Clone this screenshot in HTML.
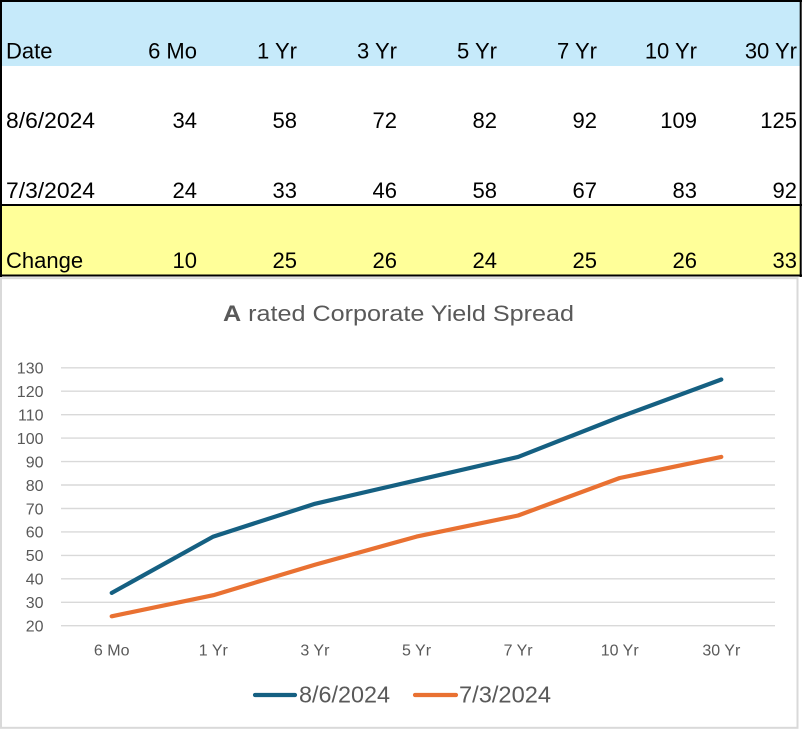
<!DOCTYPE html>
<html><head><meta charset="utf-8"><style>
html,body{margin:0;padding:0;background:#fff;}
svg{display:block;}
</style></head><body>
<svg width="803" height="730" viewBox="0 0 803 730" xmlns="http://www.w3.org/2000/svg">
<!-- table -->
<rect x="0" y="0" width="803" height="730" fill="#fff"/>
<rect x="1" y="1" width="800" height="65" fill="#C6EAFA"/>
<rect x="1" y="205" width="800" height="70" fill="#FFFF99"/>
<line x1="0" y1="1" x2="802" y2="1" stroke="#000" stroke-width="2"/>
<line x1="1" y1="0" x2="1" y2="277" stroke="#000" stroke-width="2"/>
<line x1="800.7" y1="0" x2="800.7" y2="277" stroke="#000" stroke-width="2"/>
<line x1="0" y1="205" x2="802" y2="205" stroke="#000" stroke-width="2"/>
<line x1="0" y1="275.5" x2="802" y2="275.5" stroke="#000" stroke-width="2"/>
<g font-family="Liberation Sans, sans-serif" font-size="22" fill="#000">
<text x="6" y="58.5">Date</text>
<g text-anchor="end">
<text x="197" y="58.5">6 Mo</text><text x="297" y="58.5">1 Yr</text><text x="397" y="58.5">3 Yr</text><text x="497" y="58.5">5 Yr</text><text x="597" y="58.5">7 Yr</text><text x="697" y="58.5">10 Yr</text><text x="797" y="58.5">30 Yr</text>
</g>
<text x="6" y="128" textLength="89" lengthAdjust="spacingAndGlyphs">8/6/2024</text>
<g text-anchor="end">
<text x="197" y="128">34</text><text x="297" y="128">58</text><text x="397" y="128">72</text><text x="497" y="128">82</text><text x="597" y="128">92</text><text x="697" y="128">109</text><text x="797" y="128">125</text>
</g>
<text x="6" y="198" textLength="89" lengthAdjust="spacingAndGlyphs">7/3/2024</text>
<g text-anchor="end">
<text x="197" y="198">24</text><text x="297" y="198">33</text><text x="397" y="198">46</text><text x="497" y="198">58</text><text x="597" y="198">67</text><text x="697" y="198">83</text><text x="797" y="198">92</text>
</g>
<text x="6" y="268">Change</text>
<g text-anchor="end">
<text x="197" y="268">10</text><text x="297" y="268">25</text><text x="397" y="268">26</text><text x="497" y="268">24</text><text x="597" y="268">25</text><text x="697" y="268">26</text><text x="797" y="268">33</text>
</g>
</g>
<!-- chart -->
<rect x="1" y="278.2" width="796.5" height="449.6" fill="#fff" stroke="#D9D9D9" stroke-width="2"/>
<text x="398.5" y="321" text-anchor="middle" font-family="Liberation Sans, sans-serif" font-size="22" fill="#595959" textLength="351" lengthAdjust="spacingAndGlyphs"><tspan font-weight="bold">A</tspan> rated Corporate Yield Spread</text>
<g stroke="#D9D9D9" stroke-width="1.4">
<line x1="61" y1="367.8" x2="775" y2="367.8"/>
<line x1="61" y1="391.2" x2="775" y2="391.2"/>
<line x1="61" y1="414.7" x2="775" y2="414.7"/>
<line x1="61" y1="438.1" x2="775" y2="438.1"/>
<line x1="61" y1="461.6" x2="775" y2="461.6"/>
<line x1="61" y1="485.0" x2="775" y2="485.0"/>
<line x1="61" y1="508.5" x2="775" y2="508.5"/>
<line x1="61" y1="531.9" x2="775" y2="531.9"/>
<line x1="61" y1="555.4" x2="775" y2="555.4"/>
<line x1="61" y1="578.8" x2="775" y2="578.8"/>
<line x1="61" y1="602.3" x2="775" y2="602.3"/>
<line x1="61" y1="625.7" x2="775" y2="625.7"/>
</g>
<g font-family="Liberation Sans, sans-serif" font-size="16" fill="#595959" text-anchor="end">
<text x="43.5" y="373.5">130</text>
<text x="43.5" y="397">120</text>
<text x="43.5" y="420.5">110</text>
<text x="43.5" y="443.9">100</text>
<text x="43.5" y="467.4">90</text>
<text x="43.5" y="490.8">80</text>
<text x="43.5" y="514.3">70</text>
<text x="43.5" y="537.7">60</text>
<text x="43.5" y="561.2">50</text>
<text x="43.5" y="584.6">40</text>
<text x="43.5" y="608.1">30</text>
<text x="43.5" y="631.5">20</text>
</g>
<g font-family="Liberation Sans, sans-serif" font-size="16" fill="#595959" text-anchor="middle">
<text x="111.7" y="655.5">6 Mo</text>
<text x="213.3" y="655.5">1 Yr</text>
<text x="314.9" y="655.5">3 Yr</text>
<text x="416.5" y="655.5">5 Yr</text>
<text x="518.1" y="655.5">7 Yr</text>
<text x="619.7" y="655.5">10 Yr</text>
<text x="721.3" y="655.5">30 Yr</text>
</g>
<polyline fill="none" stroke="#156082" stroke-width="4.2" stroke-linecap="round" stroke-linejoin="round"
 points="111.7,592.9 213.3,536.6 314.9,503.8 416.5,480.3 518.1,456.9 619.7,417.0 721.3,379.5"/>
<polyline fill="none" stroke="#E97132" stroke-width="4.2" stroke-linecap="round" stroke-linejoin="round"
 points="111.7,616.3 213.3,595.2 314.9,564.7 416.5,536.6 518.1,515.5 619.7,478.0 721.3,456.9"/>
<!-- legend -->
<line x1="255" y1="695" x2="295" y2="695" stroke="#156082" stroke-width="4.2" stroke-linecap="round"/>
<text x="299" y="702.5" font-family="Liberation Sans, sans-serif" font-size="23" fill="#595959" textLength="91" lengthAdjust="spacingAndGlyphs">8/6/2024</text>
<line x1="415" y1="695" x2="456" y2="695" stroke="#E97132" stroke-width="4.2" stroke-linecap="round"/>
<text x="459" y="702.5" font-family="Liberation Sans, sans-serif" font-size="23" fill="#595959" textLength="92" lengthAdjust="spacingAndGlyphs">7/3/2024</text>
</svg>
</body></html>
